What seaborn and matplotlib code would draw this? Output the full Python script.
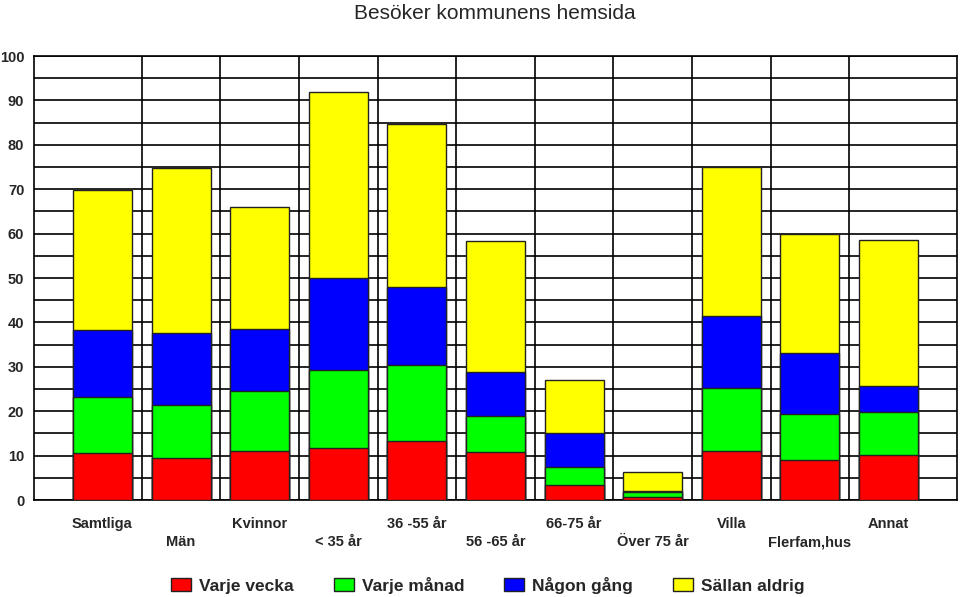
import numpy as np
import pandas as pd
import matplotlib
matplotlib.use("Agg")
import matplotlib.pyplot as plt
import seaborn as sns
from matplotlib.patches import Patch

# Data (procent)
categories = ['Samtliga', 'Män', 'Kvinnor', '< 35 år', '36 -55 år', '56 -65 år',
              '66-75 år', 'Över 75 år', 'Villa', 'Flerfam,hus', 'Annat']
varje_vecka = [10.5, 9.5, 11.1, 11.6, 13.4, 10.7, 3.4, 0.7, 11.1, 8.9, 10.2]
varje_manad = [12.7, 12.0, 13.4, 17.7, 16.9, 8.2, 4.1, 1.1, 14.1, 10.5, 9.6]
nagon_gang = [15.1, 16.2, 14.0, 20.7, 17.7, 10.0, 7.6, 0.2, 16.2, 13.6, 5.9]
sallan_aldrig = [31.5, 37.1, 27.6, 42.0, 36.7, 29.4, 11.9, 4.2, 33.6, 26.9, 32.9]

series_names = ['Varje vecka', 'Varje månad', 'Någon gång', 'Sällan aldrig']
colors = ['#FF0000', '#00FF00', '#0000FF', '#FFFF00']

df = pd.DataFrame({'kategori': categories,
                   'Varje vecka': varje_vecka,
                   'Varje månad': varje_manad,
                   'Någon gång': nagon_gang,
                   'Sällan aldrig': sallan_aldrig})
cum = df[series_names].cumsum(axis=1)
cum['kategori'] = df['kategori']

sns.set_theme(style="white")
plt.rcParams['font.family'] = ['Liberation Sans', 'DejaVu Sans']

fig = plt.figure(figsize=(9.6, 5.97), dpi=100)
ax = fig.add_axes([34 / 960, 97 / 597, (957 - 34) / 960, 444 / 597])

# stacked bars: draw cumulative totals from the top layer down
for name, col in reversed(list(zip(series_names, colors))):
    sns.barplot(data=cum, x='kategori', y=name, color=col, width=0.75,
                edgecolor='#222222', linewidth=1.0, saturation=1, ax=ax, zorder=3)

ax.set_xlim(-0.87, 10.87)
ax.set_ylim(0, 100)
ax.set_yticks(np.arange(0, 101, 10))
ax.set_yticks(np.arange(0, 101, 5), minor=True)
ax.set_xticks(np.arange(len(categories) - 1) + 0.5, minor=True)
ax.grid(which='both', axis='y', color='black', linewidth=1.2, zorder=0)
ax.grid(which='minor', axis='x', color='black', linewidth=1.2, zorder=0)
ax.grid(which='major', axis='x', visible=False)
ax.set_axisbelow(True)
for s in ax.spines.values():
    s.set_color('black')
    s.set_linewidth(1.2)

labels = [c if i % 2 == 0 else '\n' + c for i, c in enumerate(categories)]
ax.set_xticks(np.arange(len(categories)))
ax.set_xticklabels(labels, fontsize=10.5, fontweight='bold', linespacing=1.4)
ax.tick_params(axis='x', which='both', length=0, pad=12)
ax.tick_params(axis='y', which='both', length=0, pad=7, labelsize=10.5)
for t in ax.get_yticklabels():
    t.set_fontweight('bold')
ax.set_xlabel('')
ax.set_ylabel('')

fig.suptitle('Besöker kommunens hemsida', x=495 / 960, y=0.994, fontsize=15)

handles = [Patch(facecolor=c, edgecolor='#222222', label=n) for n, c in zip(series_names, colors)]
leg = fig.legend(handles=handles, loc='center', bbox_to_anchor=(488 / 960, 12 / 597), ncol=4,
                 frameon=False, prop={'weight': 'bold', 'size': 12.5},
                 handlelength=1.15, handleheight=0.85, handletextpad=0.46, columnspacing=2.3)

fig.savefig('out.png', dpi=100)
